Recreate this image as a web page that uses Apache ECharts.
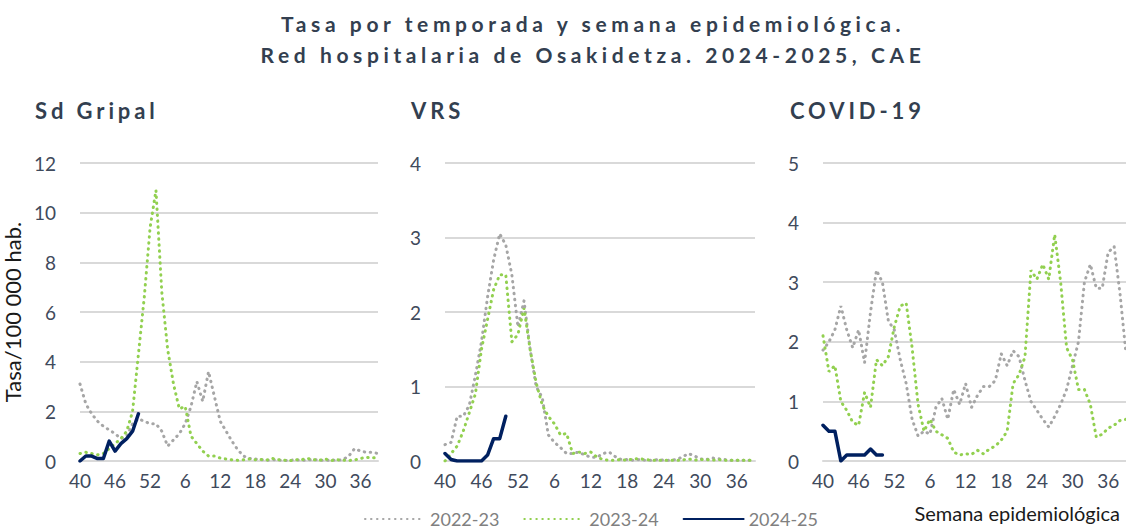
<!DOCTYPE html>
<html><head><meta charset="utf-8">
<script src="https://cdn.jsdelivr.net/npm/echarts@6/dist/echarts.min.js"></script>
<style>
html,body{margin:0;padding:0;background:#fff}
#c{width:1126px;height:529px}
#c text[style*="bold"][style*="21px"]{letter-spacing:4.6px}
#c text[style*="bold"][style*="22px"]{letter-spacing:3.9px}
</style></head><body><div id="c"></div>
<script>
const weeks = ['40','41','42','43','44','45','46','47','48','49','50','51','52','1','2','3','4','5','6','7','8','9','10','11','12','13','14','15','16','17','18','19','20','21','22','23','24','25','26','27','28','29','30','31','32','33','34','35','36','37','38','39'];
const seasons = ['2022-23','2023-24','2024-25'];
const panelTitles = ['Sd Gripal','VRS','COVID-19'];
const yMax = [12, 4, 5];
const yInterval = [2, 1, 1];

const gripe2223 = [3.1,2.3,1.9,1.6,1.4,1.25,1.1,0.9,1.0,1.5,1.7,1.6,1.5,1.5,1.2,0.6,0.85,1.1,1.5,2.2,3.2,2.4,3.6,2.6,1.6,1.2,0.8,0.45,0.2,0.1,0.08,0.05,0.03,0.05,0.04,0.02,0.03,0.05,0.02,0.04,0.06,0.03,0.02,0.04,0.03,0.05,0.2,0.5,0.4,0.35,0.35,0.3];
const gripe2324 = [0.3,0.35,0.3,0.25,0.3,0.5,0.7,0.9,1.2,2.0,4.3,6.6,9.4,10.9,6.8,4.5,3.1,2.1,2.2,1.0,0.7,0.4,0.2,0.2,0.12,0.08,0.05,0.03,0.05,0.08,0.05,0.06,0.04,0.1,0.05,0.03,0.02,0.05,0.06,0.1,0.05,0.03,0.08,0.02,0.05,0.03,0.02,0.04,0.1,0.15,0.12,0.15];
const gripe2425 = [0,0.2,0.2,0.1,0.1,0.8,0.4,0.7,0.9,1.2,1.9];

const vrs2223 = [0.22,0.25,0.6,0.6,0.75,1.15,1.6,2.2,2.7,3.05,2.9,2.5,1.8,2.15,1.5,1.0,0.85,0.35,0.25,0.18,0.1,0.1,0.12,0.08,0.05,0.05,0.1,0.12,0.06,0.02,0.02,0.01,0.02,0.01,0.01,0.02,0.01,0.01,0.02,0.05,0.1,0.07,0.03,0.02,0.04,0.03,0.02,0.01,0.01,0.01,0.01,0.01];
const vrs2324 = [0,0.1,0.2,0.4,0.65,0.9,1.5,1.9,2.3,2.5,2.5,1.6,1.7,2.05,1.5,1.05,0.75,0.6,0.5,0.35,0.37,0.1,0.12,0.1,0.12,0.05,0.02,0.01,0.01,0.02,0.01,0.03,0.03,0.02,0.01,0.01,0.01,0.01,0.01,0.01,0.03,0.01,0.02,0.02,0.01,0.02,0.01,0.01,0.01,0.01,0.01,0.01];
const vrs2425 = [0.1,0.02,0,0,0,0,0,0.08,0.3,0.3,0.6];

const covid2223 = [1.86,2.0,2.2,2.6,2.2,1.9,2.2,1.65,2.5,3.2,3.0,2.35,2.2,1.7,1.3,0.7,0.42,0.5,0.45,0.9,1.05,0.7,1.2,0.95,1.3,0.9,1.1,1.25,1.25,1.35,1.8,1.6,1.85,1.75,1.35,1.0,0.85,0.7,0.57,0.75,0.95,1.2,1.6,2.0,3.0,3.3,2.9,2.9,3.5,3.6,2.8,1.8];
const covid2324 = [2.1,1.5,1.6,1.0,0.85,0.65,0.6,1.15,0.9,1.7,1.6,1.75,2.25,2.6,2.65,1.9,0.95,0.5,0.7,0.5,0.44,0.38,0.15,0.1,0.12,0.11,0.18,0.12,0.2,0.25,0.35,0.5,1.3,1.45,1.75,3.2,3.05,3.3,3.05,3.8,3.0,1.9,1.7,1.2,1.2,0.95,0.4,0.45,0.55,0.6,0.68,0.7];
const covid2425 = [0.6,0.5,0.5,0,0.1,0.1,0.1,0.1,0.2,0.1,0.1];

const panelData = [
  [gripe2223, gripe2324, gripe2425],
  [vrs2223, vrs2324, vrs2425],
  [covid2223, covid2324, covid2425]
];

const FONT = 'Lato, "Open Sans", sans-serif';
const colors = ['#a6a6a6', '#92d050', '#002060'];
const gridPos = [
  {left: 80, top: 163, width: 298, height: 298},
  {left: 445, top: 163, width: 310, height: 298},
  {left: 823, top: 163, width: 308, height: 298}
];
const titleLeft = [35, 411, 790];

const grids = gridPos.map(g => Object.assign({containLabel: false}, g));
const xAxes = gridPos.map((g, i) => ({
  type: 'category', gridIndex: i, data: weeks, boundaryGap: false,
  axisTick: {show: false},
  axisLine: {lineStyle: {color: '#d9d9d9', width: 2}},
  axisLabel: {interval: 5, color: '#3f4a5c', fontSize: 19, fontFamily: FONT, margin: 10}
}));
const yAxes = gridPos.map((g, i) => ({
  type: 'value', gridIndex: i, min: 0, max: yMax[i], interval: yInterval[i],
  axisLine: {show: false}, axisTick: {show: false},
  splitLine: {lineStyle: {color: '#d9d9d9', width: 2}},
  axisLabel: {color: '#3f4a5c', fontSize: 19, fontFamily: FONT, margin: 24},
  name: i === 0 ? 'Tasa/100 000 hab.' : '',
  nameLocation: 'middle', nameRotate: 90, nameGap: 57,
  nameTextStyle: {color: '#1a1a1a', fontSize: 22, fontFamily: FONT}
}));

const series = [];
panelData.forEach((arrs, p) => {
  arrs.forEach((arr, s) => {
    series.push({
      name: seasons[s], type: 'line', xAxisIndex: p, yAxisIndex: p,
      data: arr, symbol: 'none', smooth: false, z: 2 + s,
      lineStyle: s < 2
        ? {color: colors[s], width: 3, type: [0.5, 5.5], cap: 'round'}
        : {color: colors[s], width: 3.5, cap: 'round', join: 'round'},
      itemStyle: {color: colors[s]},
      emphasis: {disabled: true}
    });
  });
});

const titles = [{
  text: 'Tasa por temporada y semana epidemiológica.\nRed hospitalaria de Osakidetza. 2024-2025, CAE',
  left: 593, top: 8, textAlign: 'center', padding: 0,
  textStyle: {fontSize: 21, fontWeight: 'bold', color: '#333f50', fontFamily: FONT, lineHeight: 31}
}];
panelTitles.forEach((t, i) => titles.push({
  text: t, left: titleLeft[i], top: 99, padding: 0,
  textStyle: {fontSize: 22, fontWeight: 'bold', color: '#333f50', fontFamily: FONT}
}));
titles.push({
  text: 'Semana epidemiológica', right: 6, top: 503, padding: 0,
  textStyle: {fontSize: 20, fontWeight: 'normal', color: '#1a1a1a', fontFamily: FONT}
});

const option = {
  backgroundColor: '#ffffff',
  animation: false,
  title: titles,
  legend: {
    data: seasons, left: 364, top: 510, padding: 0, itemWidth: 60, itemHeight: 14, itemGap: 24,
    textStyle: {color: '#808080', fontSize: 18, fontFamily: FONT},
    itemStyle: {opacity: 0},
    selectedMode: false
  },
  grid: grids,
  xAxis: xAxes,
  yAxis: yAxes,
  series: series
};

const chart = echarts.init(document.getElementById('c'), null, {renderer: 'svg'});
chart.setOption(option);
</script></body></html>
